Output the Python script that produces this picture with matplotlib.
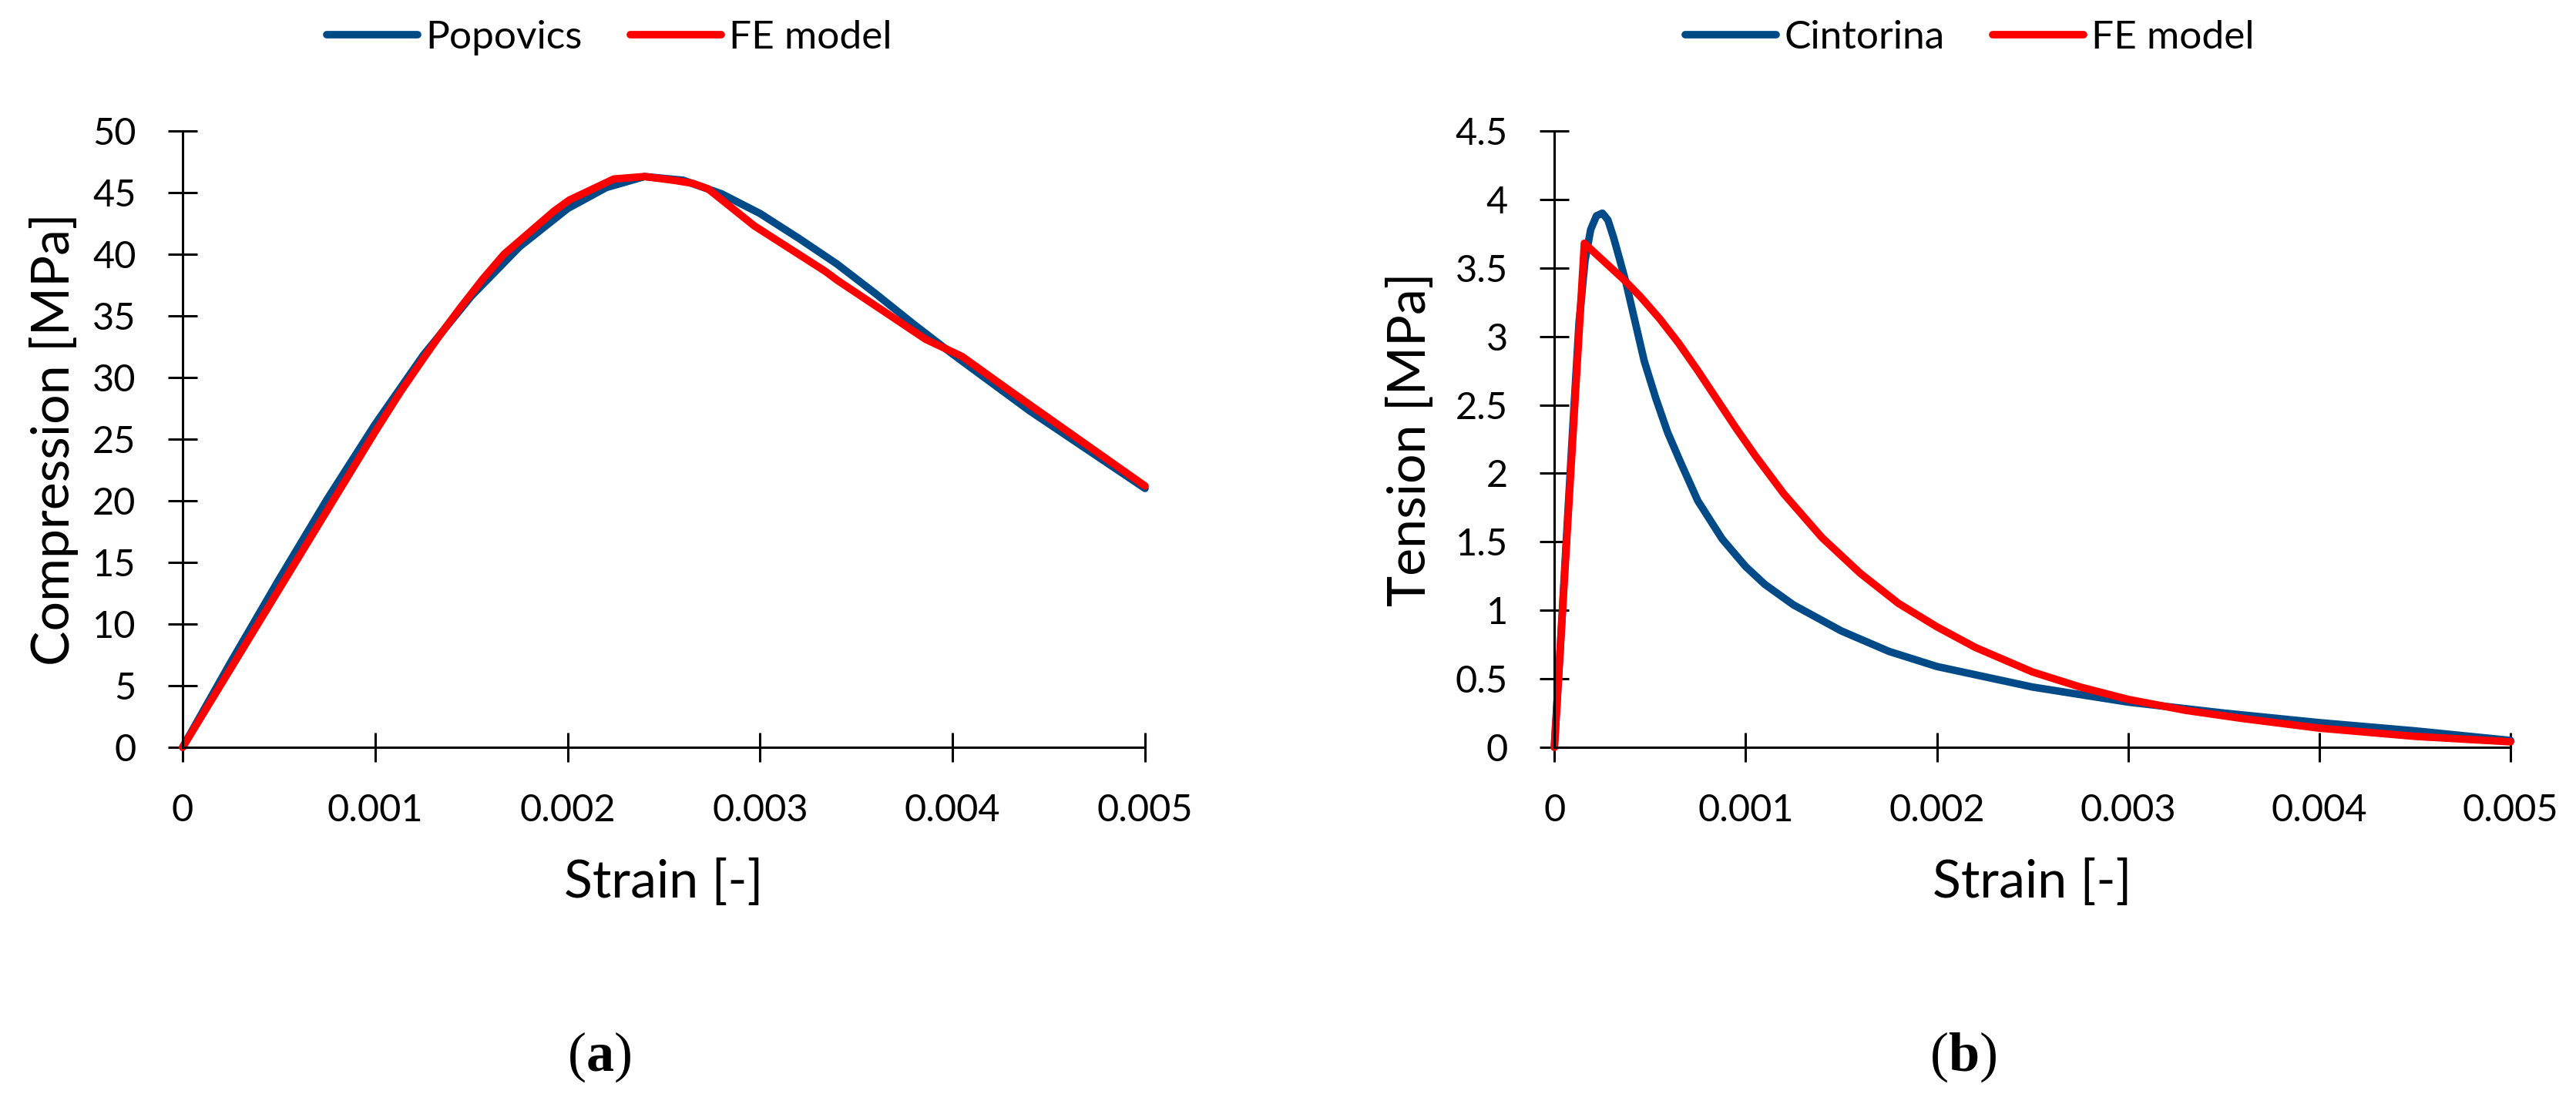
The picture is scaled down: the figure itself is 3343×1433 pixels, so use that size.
import matplotlib
matplotlib.use('Agg')
import matplotlib.pyplot as plt

plt.rcParams['font.family'] = ['Lato', 'DejaVu Sans']
plt.rcParams['mathtext.fontset'] = 'custom'
plt.rcParams['mathtext.rm'] = 'Liberation Serif'
plt.rcParams['mathtext.bf'] = 'Liberation Serif:bold'

# (a) compression
comp_pop_strain = [0, 0.00025, 0.0005, 0.00075, 0.001, 0.00125, 0.0015, 0.00175, 0.002, 0.0022,
                   0.0024, 0.0026, 0.0028, 0.003, 0.0032, 0.0034, 0.0036, 0.0038, 0.004,
                   0.0042, 0.0044, 0.0046, 0.0048, 0.005]
comp_pop_stress = [0, 6.9, 13.6, 20.1, 26.2, 31.8, 36.6, 40.6, 43.7, 45.4,
                   46.3, 46.0, 44.9, 43.3, 41.3, 39.2, 36.8, 34.3, 31.9,
                   29.6, 27.3, 25.2, 23.1, 21.0]
comp_fe_strain = [0, 0.0005, 0.001, 0.00113, 0.00124, 0.00133, 0.00144, 0.00156, 0.00167,
                  0.00193, 0.00201, 0.00224, 0.0024, 0.00255, 0.00265, 0.00273, 0.00297,
                  0.00334, 0.0034, 0.00364, 0.00386, 0.00405, 0.0043, 0.0046, 0.005]
comp_fe_stress = [0, 12.8, 25.6, 28.8, 31.3, 33.3, 35.6, 38.0, 40.0,
                  43.5, 44.4, 46.1, 46.3, 46.0, 45.75, 45.3, 42.3,
                  38.6, 37.9, 35.4, 33.1, 31.7, 28.9, 25.6, 21.2]

# (b) tension
ten_cin_strain = [0, 0.00003, 0.00006, 0.000095, 0.000129, 0.00016, 0.00019, 0.00022, 0.000251,
                  0.00028, 0.00031, 0.00034, 0.000375, 0.00042, 0.00047, 0.00053, 0.000592,
                  0.00066, 0.00075, 0.000878, 0.001, 0.0011, 0.00125, 0.0015, 0.00175, 0.002,
                  0.0025, 0.003, 0.0035, 0.004, 0.0045, 0.005]
ten_cin_stress = [0, 0.7, 1.45, 2.3, 3.1, 3.55, 3.78, 3.88, 3.9,
                  3.85, 3.72, 3.57, 3.39, 3.12, 2.82, 2.55, 2.3,
                  2.08, 1.8, 1.52, 1.32, 1.19, 1.04, 0.85, 0.7, 0.59,
                  0.44, 0.33, 0.25, 0.18, 0.12, 0.05]
ten_fe_strain = [0, 0.000157, 0.00025, 0.000359, 0.00045, 0.00055, 0.00065, 0.00075, 0.00085,
                 0.00095, 0.00105, 0.0012, 0.0014, 0.0016, 0.0018, 0.002, 0.0022, 0.0025,
                 0.00275, 0.003, 0.0033, 0.0036, 0.004, 0.0045, 0.005]
ten_fe_stress = [0, 3.68, 3.56, 3.42, 3.29, 3.13, 2.95, 2.75, 2.54,
                 2.33, 2.13, 1.85, 1.53, 1.27, 1.05, 0.88, 0.73, 0.55,
                 0.44, 0.35, 0.27, 0.21, 0.14, 0.08, 0.04]

blue = '#004b87'
red = '#ff0000'

fig = plt.figure(figsize=(33.43, 14.33), dpi=100)
ax1 = fig.add_axes([0.0709, 0.3231, 0.3736, 0.5583])
ax2 = fig.add_axes([0.6034, 0.3231, 0.3712, 0.5583])

panels = [
    (ax1, comp_pop_strain, comp_pop_stress, comp_fe_strain, comp_fe_stress, 'Popovics',
     'Compression [MPa]', 50, 5, '{:.0f}', 0.2366, -0.134),
    (ax2, ten_cin_strain, ten_cin_stress, ten_fe_strain, ten_fe_stress, 'Cintorina',
     'Tension [MPa]', 4.5, 0.5, '{:g}', 0.7647, -0.15),
]

for ax, xs1, ys1, xs2, ys2, name, ylab, ymax, ystep, fmt, legx, ylx in panels:
    l1, = ax.plot(xs1, ys1, color=blue, lw=7, solid_joinstyle='round', solid_capstyle='round', label=name)
    l2, = ax.plot(xs2, ys2, color=red, lw=7, solid_joinstyle='round', solid_capstyle='round', label='FE model')
    ax.set_xlim(0, 0.005)
    ax.set_ylim(0, ymax)
    xt = [0, 0.001, 0.002, 0.003, 0.004, 0.005]
    ax.set_xticks(xt)
    ax.set_xticklabels(['0', '0.001', '0.002', '0.003', '0.004', '0.005'])
    n = int(round(ymax / ystep))
    yt = [i * ystep for i in range(n + 1)]
    ax.set_yticks(yt)
    ax.set_yticklabels([fmt.format(v) for v in yt])
    for s in ['top', 'right']:
        ax.spines[s].set_visible(False)
    for s in ['left', 'bottom']:
        ax.spines[s].set_linewidth(2.2)
    ax.tick_params(direction='inout', length=27, width=2.2, labelsize=35, pad=30)
    ax.set_xlabel('Strain [-]', fontsize=49, va='center')
    ax.set_ylabel(ylab, fontsize=49, va='center')
    ax.xaxis.set_label_coords(0.5, -0.22)
    ax.yaxis.set_label_coords(ylx, 0.5)
    for l in (l1, l2):
        l.set_clip_on(False)
    fig.legend(handles=[l1, l2], loc='center', bbox_to_anchor=(legx, 0.966), ncol=2,
               frameon=False, fontsize=37, handlelength=2.3, handletextpad=0.2,
               columnspacing=1.2)

fig.text(0.2327, 0.0426, r'$\mathrm{(}\mathbf{a}\mathrm{)}$', fontsize=52, ha='center', va='center')
fig.text(0.7622, 0.0426, r'$\mathrm{(}\mathbf{b}\mathrm{)}$', fontsize=52, ha='center', va='center')

fig.savefig('out.png', dpi=100)
